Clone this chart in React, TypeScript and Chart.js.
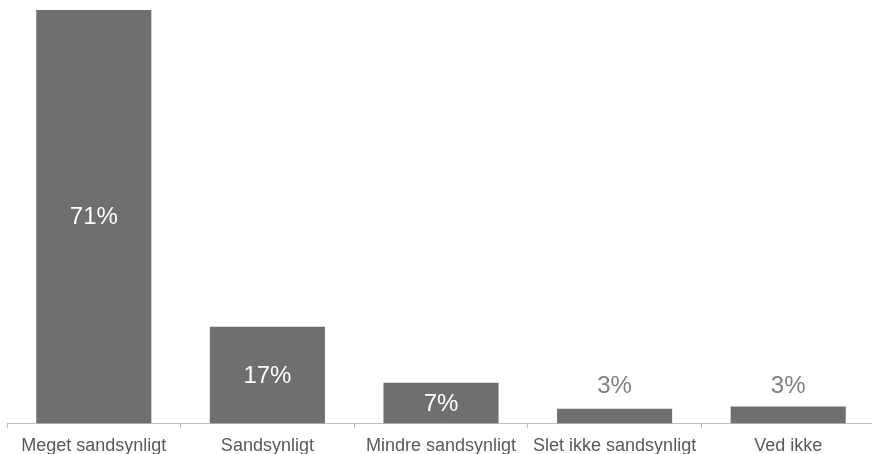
import React, { useEffect, useRef } from "react";
import { Chart, registerables } from "chart.js";

Chart.register(...registerables);

const categories = [
  "Meget sandsynligt",
  "Sandsynligt",
  "Mindre sandsynligt",
  "Slet ikke sandsynligt",
  "Ved ikke",
];
const values = [71, 16.6, 7, 2.5, 2.9];
const valueLabels = ["71%", "17%", "7%", "3%", "3%"];

const FONT = "'Liberation Sans', Arial, sans-serif";

const labelPlugin = {
  id: "barLabels",
  afterDatasetsDraw(chart: any) {
    const ctx = chart.ctx;
    const meta = chart.getDatasetMeta(0);
    ctx.save();
    ctx.font = `24px ${FONT}`;
    ctx.textAlign = "center";
    meta.data.forEach((bar: any, i: number) => {
      const v = values[i];
      if (v >= 5) {
        ctx.fillStyle = "#ffffff";
        ctx.textBaseline = "middle";
        ctx.fillText(valueLabels[i], bar.x, (bar.y + bar.base) / 2 + 1);
      } else {
        ctx.fillStyle = "#7f7f7f";
        ctx.textBaseline = "alphabetic";
        ctx.fillText(valueLabels[i], bar.x, 393);
      }
    });
    ctx.restore();
  },
};

export default function App() {
  const ref = useRef<HTMLCanvasElement>(null);
  useEffect(() => {
    if (!ref.current) return;
    const chart = new Chart(ref.current, {
      type: "bar",
      data: {
        labels: categories,
        datasets: [
          {
            data: values,
            backgroundColor: "#6f6f6f",
            borderWidth: 0,
            categoryPercentage: 1,
            barPercentage: 0.663,
          },
        ],
      },
      options: {
        animation: false,
        responsive: true,
        maintainAspectRatio: false,
        layout: { padding: { left: 7, right: 0, top: 10, bottom: 0 } },
        plugins: {
          legend: { display: false },
          tooltip: { enabled: false },
        },
        scales: {
          y: { display: false, min: 0, max: 71 },
          x: {
            offset: true,
            grid: {
              display: true,
              drawOnChartArea: false,
              drawTicks: true,
              tickLength: 5,
              color: "#bfbfbf",
              offset: true,
            },
            border: { display: true, color: "#bfbfbf", width: 1 },
            ticks: {
              color: "#595959",
              font: { family: FONT, size: 18 },
              padding: 7,
              maxRotation: 0,
              autoSkip: false,
            },
          },
        },
      },
      plugins: [labelPlugin],
    });
    return () => chart.destroy();
  }, []);
  return (
    <div
      style={{
        position: "fixed",
        left: 0,
        top: 0,
        width: 872,
        height: 454,
        overflow: "hidden",
        background: "#fff",
      }}
    >
      <div style={{ width: 875, height: 464, position: "relative" }}>
        <canvas ref={ref} />
      </div>
    </div>
  );
}
